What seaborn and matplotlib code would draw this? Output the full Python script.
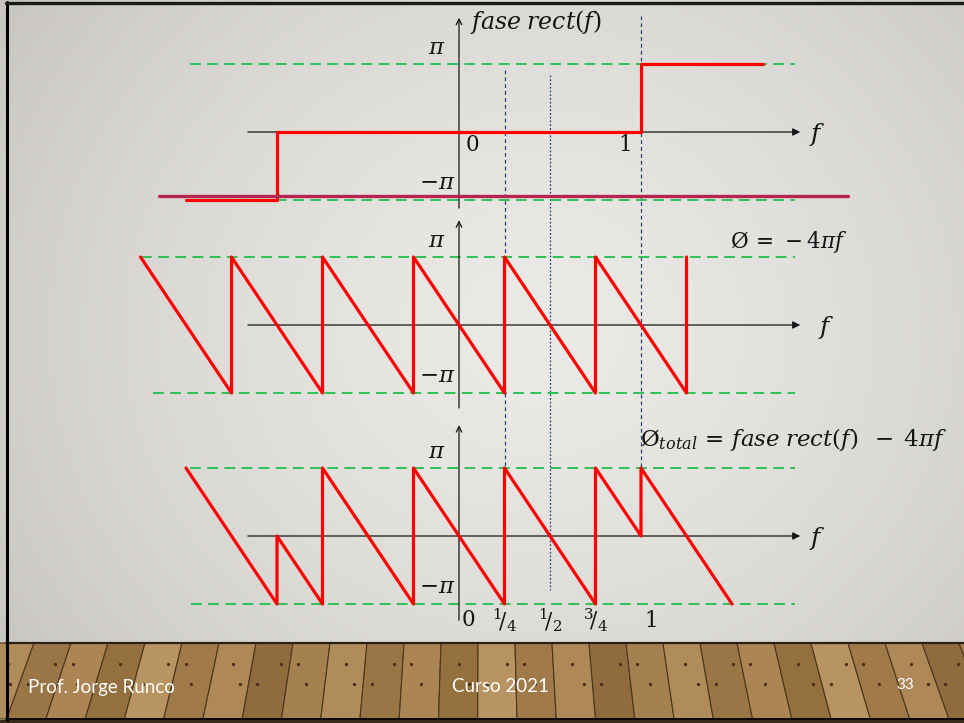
import numpy as np
import matplotlib
matplotlib.use("Agg")
import matplotlib.pyplot as plt
import seaborn as sns

sns.set_theme(style="white")
plt.rcParams["font.family"] = ["Lato", "DejaVu Sans"]
plt.rcParams["mathtext.fontset"] = "dejavuserif"

# ---- phase curves (frequency f, phase in units of pi) ----
rect_f = [-1.5, -1.0, -1.0, 1.0, 1.0, 1.67]
rect_phase = [-1, -1, 0, 0, 1, 1]

lin_f = [-1.75, -1.25, -1.25, -0.75, -0.75, -0.25, -0.25, 0.25, 0.25,
         0.75, 0.75, 1.25, 1.25]
lin_phase = [1, -1, 1, -1, 1, -1, 1, -1, 1, -1, 1, -1, 1]

total_f = [-1.5, -1.0, -1.0, -0.75, -0.75, -0.25, -0.25, 0.25, 0.25,
           0.75, 0.75, 1.0, 1.0, 1.5]
total_phase = [1, -1, 0, -1, 1, -1, 1, -1, 1, -1, 1, 0, 1, -1]

marker_f = [0.25, 0.5, 1.0]
tick_f = [0, 0.25, 0.5, 0.75, 1]
tick_labels = [r"$\mathrm{0}$", r"${}^{\mathrm{1}}\!/_{\mathrm{4}}$",
               r"${}^{\mathrm{1}}\!/_{\mathrm{2}}$",
               r"${}^{\mathrm{3}}\!/_{\mathrm{4}}$", r"$\mathrm{1}$"]

titles = [r"$fase\;rect(f)$", r"$\mathrm{Ø}\,=\,-4\pi f$",
          r"$\mathrm{Ø}_{total}\,=\,fase\;rect(f)\;\;-\;4\pi f$"]
title_sizes = [17, 15.5, 16.5]

# ---- page geometry (pixels) ----
W, H = 964, 723
X0, SX = 459, 182          # pixel of f=0, pixels per unit f
SY = 68                    # pixels per pi
centers = [132, 325, 536]  # pixel row of phase 0 in each panel
XLIM = (-X0 / SX, (W - X0) / SX)
INK = "#151515"

fig = plt.figure(figsize=(W / 100, H / 100), dpi=100)
fig.patch.set_facecolor("white")

# ---- slide background ----
bg = fig.add_axes([0, 0, 1, 1])
bg.set_xlim(0, W)
bg.set_ylim(H, 0)
bg.axis("off")
yy, xx = np.mgrid[0:643, 0:W]
d = np.sqrt(((xx - 540) / 1.0) ** 2 + ((yy - 330) / 0.9) ** 2)
t = np.clip(d / 640, 0, 1)[..., None]
light = np.array([0.925, 0.918, 0.902])
dark = np.array([0.790, 0.780, 0.762])
grad = light * (1 - t ** 1.4) + dark * t ** 1.4
bg.imshow(grad, extent=(0, W, 643, 0), aspect="auto", zorder=0)

# wooden floor
FT, FB = 643, 719
VX, VY = 482, -600
plank_cols = ["#A5814F", "#B08C5A", "#9A7546", "#AB8654", "#94703F",
              "#B79461", "#A07A49", "#AE8957", "#8F6B3E"]
edges = np.arange(-40, W + 60, 37)
k = (FB - VY) / (FT - VY)
for i in range(len(edges) - 1):
    xa, xb = edges[i], edges[i + 1]
    poly = [(xa, FT), (xb, FT), (VX + (xb - VX) * k, FB), (VX + (xa - VX) * k, FB)]
    bg.add_patch(plt.Polygon(poly, closed=True, fc=plank_cols[i % len(plank_cols)],
                             ec="#4A3520", lw=0.8, zorder=1))
    for j, yn in enumerate((664, 684)):
        s = (yn - VY) / (FT - VY)
        off = 10 * (((i + j) % 3) - 1)
        xm = VX + ((xa + xb) / 2 + off - VX) * s
        bg.plot(xm, yn, "o", ms=1.3, color="#4A2C18", zorder=2)
bg.plot([6, W], [643, 643], color="#2B2118", lw=1.6, zorder=3)
bg.plot([6, W], [719, 719], color="black", lw=2.0, zorder=3)
bg.fill_between([0, W], 720, H, color="#3A2A1A", zorder=3)
bg.plot([7, 7], [2, 720], color="black", lw=2.2, zorder=3)
bg.plot([6, W], [3, 3], color="#1A1A1A", lw=2.4, zorder=3)

bg.text(28, 687, "Prof. Jorge Runco", color="white", fontsize=13.5,
        va="center", ha="left", zorder=4)
bg.text(452, 687, "Curso 2021", color="white", fontsize=13.5,
        va="center", ha="left", zorder=4)
bg.text(905, 685, "33", color="white", fontsize=11,
        va="center", ha="center", zorder=4)

# ---- guide lines shared by all panels ----
ov = fig.add_axes([0, 0, 1, 1], facecolor="none")
ov.set_xlim(*XLIM)
ov.set_ylim(H, 0)
ov.axis("off")
guide_spans = [(70, 468), (75, 590), (16, 468)]
guide_dash = [(3, 2.5), (1.5, 1.5), (3, 2.5)]
for fx, (y_top, y_bot), ds in zip(marker_f, guide_spans, guide_dash):
    ov.plot([fx, fx], [y_top, y_bot], color="#2A3F7A", lw=0.9,
            dashes=ds, zorder=2)

# ---- panels ----
curves = [(rect_f, rect_phase), (lin_f, lin_phase), (total_f, total_phase)]
green_spans = [((-1.48, 1.846), (-1.48, 1.846)),
               ((-1.75, 1.846), (-1.68, 1.846)),
               ((-1.48, 1.846), (-1.47, 1.846))]
vaxis = [(-1.12, 1.68), (-1.22, 1.54), (-1.24, 1.63)]
title_pos = [(0.06, 1.62), (1.49, 1.22), (0.995, 1.42)]

for p, c in enumerate(centers):
    ax = fig.add_axes([0, 0, 1, 1], facecolor="none")
    ax.set_xlim(*XLIM)
    ax.set_ylim((c - H) / SY, c / SY)
    ax.axis("off")

    (gx1, gx2), (hx1, hx2) = green_spans[p]
    ax.plot([gx1, gx2], [1, 1], color="#1FBF4E", lw=1.3, dashes=(6, 3.5), zorder=2)
    ax.plot([hx1, hx2], [-1, -1], color="#1FBF4E", lw=1.3, dashes=(6, 3.5), zorder=2)

    # horizontal frequency axis
    ax.annotate("", xy=(1.875, 0), xytext=(-1.16, 0),
                arrowprops=dict(arrowstyle="-|>", color=INK, lw=0.9,
                                mutation_scale=11, shrinkA=0, shrinkB=0), zorder=3)
    # vertical phase axis
    v0, v1 = vaxis[p]
    ax.annotate("", xy=(0, v1), xytext=(0, v0),
                arrowprops=dict(arrowstyle="->", color=INK, lw=0.9,
                                mutation_scale=10, shrinkA=0, shrinkB=0), zorder=3)

    fx, fv = curves[p]
    sns.lineplot(x=fx, y=fv, sort=False, estimator=None, color="#FF0000",
                 lw=2.3, ax=ax, zorder=4)

    ax.text(-0.12, 1.24, r"$\pi$", fontsize=16.5, ha="center", va="center", color=INK)
    ax.text(-0.12, -0.74, r"$-\pi$", fontsize=16.5, ha="center", va="center", color=INK)
    ax.text(1.97 if p != 1 else 2.02, -0.03, r"$f$", fontsize=18,
            ha="center", va="center", color=INK)
    tx, tv = title_pos[p]
    ax.text(tx, tv, titles[p], fontsize=title_sizes[p], ha="left", va="center",
            color=INK)

    if p == 0:
        ax.plot([-1.65, 2.14], [-0.94, -0.94], color="#B5254F", lw=2.4, zorder=5)
        ax.text(0.07, -0.19, r"$\mathrm{0}$", fontsize=15.5, ha="center", va="center", color=INK)
        ax.text(0.91, -0.19, r"$\mathrm{1}$", fontsize=15.5, ha="center", va="center", color=INK)
    if p == 2:
        for tf, tl in zip(tick_f, tick_labels):
            dx = 0.05 if tf in (0, 1) else 0.0
            ax.text(tf + dx, -1.24, tl, fontsize=15.5, ha="center", va="center",
                    color=INK)

fig.savefig("out.png", dpi=100)
